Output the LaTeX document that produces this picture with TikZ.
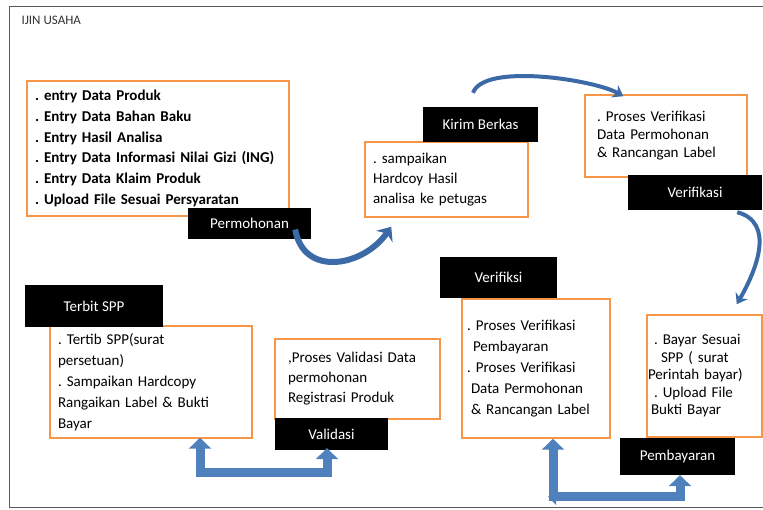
\documentclass[tikz,border=0pt]{standalone}
\usepackage{fontspec}
\setmainfont{Carlito}
\usetikzlibrary{calc,arrows.meta}
\definecolor{oranye}{HTML}{F79646}
\definecolor{biru}{HTML}{4F81BD}
\definecolor{birutua}{HTML}{3C6AA6}
\frenchspacing
\tikzset{
	isi/.style = {
		draw       = oranye,
		line width = 1.5pt,
		fill       = white,
		align      = left,
		inner ysep = 0pt,
		font       = \fontsize{15}{20}\selectfont
	},
	tab/.style = {
		fill      = black,
		text      = white,
		inner sep = 0pt,
		font      = \fontsize{15}{18}\selectfont
	},
	bingkai/.style  = {draw = black!65, line width = 1pt},
	panah/.style    = {draw = biru, line width = 9pt,
		{Triangle[width=22pt,length=11pt]}-{Triangle[width=22pt,length=11pt]}},
	lengkung/.style = {draw = birutua, line width = 4pt, -{Stealth[width=14pt,length=10pt]}}
}

\begin{document}
\begin{tikzpicture}[x = 1pt, y = 1pt]
	\useasboundingbox (0,0) rectangle (763,510);
	% frame and title
	\draw[bingkai] (763,503) -- (9,503) -- (9,2) -- (763,2);
	\node(judul) [anchor = west, text = black!80, font = \fontsize{13}{15}\selectfont] at (18,490) {IJIN USAHA};
	
	% boxes
	\node(produk) [isi, inner xsep = 8pt, text width = 246pt, minimum height = 135pt, font = \fontsize{15}{20.8}\selectfont\bfseries] at (158,361.5)
	{. entry Data Produk\\. Entry Data Bahan Baku\\. Entry Hasil Analisa\\. Entry Data Informasi Nilai Gizi (ING)\\. Entry Data Klaim Produk\\. Upload File Sesuai Persyaratan};
	\node(hardcopy) [isi, inner xsep = 8pt, text width = 147pt, minimum height = 75pt] at (446.5,330.5)
	{. sampaikan\\ Hardcoy Hasil\\ analisa ke petugas};
	\node(cekdata) [isi, inner xsep = 12pt, text width = 138pt, minimum height = 82pt, font = \fontsize{15}{18}\selectfont] at (666,374)
	{. Proses Verifikasi\\ Data Permohonan\\ \& Rancangan Label};
	\node(cekbayar) [isi, inner xsep = 5pt, text width = 138pt, minimum height = 139pt, font = \fontsize{15}{21}\selectfont] at (536,141.5)
	{. Proses Verifikasi\\\hspace*{6pt}Pembayaran\\. Proses Verifikasi\\\hspace*{4pt}Data Permohonan\\\hspace*{4pt}\& Rancangan Label};
	\node(bayar) [isi, inner xsep = 1pt, text width = 113pt, minimum height = 122pt, font = \fontsize{15}{17.5}\selectfont] at (704.5,134)
	{\hspace*{6pt}. Bayar Sesuai\\\hspace*{13pt}SPP ( surat\\Perintah bayar)\\\hspace*{6pt}. Upload File\\\hspace*{3pt}Bukti Bayar};
	\node(spp) [isi, inner xsep = 8pt, text width = 186pt, minimum height = 112pt, font = \fontsize{15}{21}\selectfont] at (151,128)
	{. Tertib SPP(surat\\persetuan)\\. Sampaikan Hardcopy\\Rangaikan Label \& Bukti\\Bayar};
	\node(validdata) [isi, inner xsep = 13pt, text width = 139pt, minimum height = 80pt] at (357.5,131)
	{,Proses Validasi Data\\permohonan\\Registrasi Produk};
	
	% black labels
	\foreach \nama/\x/\y/\lebar/\tinggi/\teks in {
		permohonan/249.5/286.5/123/31/Permohonan,
		kirim/480.5/385.5/115/35/Kirim Berkas,
		verifikasi/695/317.5/134/35/Verifikasi,
		verifiksi/498.5/232.5/117/41/Verifiksi,
		terbit/94/204/138/42/Terbit SPP,
		validasi/331.5/76/113/32/Validasi,
		pembayaran/677.5/53.5/115/37/Pembayaran}
		\node(\nama) [tab, minimum width = \lebar, minimum height = \tinggi] at (\x,\y) {\teks};
	
	% arrows
	\draw[lengkung, line width = 6pt, -{Stealth[width=20pt,length=12pt]}] ([xshift=-16pt,yshift=-6pt]permohonan.east)
		to[out=-80, in=-125, looseness=1.3] ([xshift=27pt,yshift=-9pt]hardcopy.south west);
	\draw[lengkung] ([xshift=-7.5pt,yshift=14pt]kirim.north)
		to[out=70, in=150, looseness=0.55] ([xshift=39pt,yshift=-2pt]cekdata.north west);
	\draw[lengkung] ([xshift=-25pt,yshift=-2pt]verifikasi.south east)
		to[out=-15, in=60, looseness=1.1] ([xshift=-26pt,yshift=10pt]bayar.north east);
	\draw[panah] ([xshift=49pt,yshift=1pt]spp.south) -- ++(0,-35) -| ([xshift=-4.5pt,yshift=2pt]validasi.south);
	\coordinate (sudut) at ($(cekbayar.south)+(17,-58)$);
	\draw[panah] ([xshift=17pt]cekbayar.south) -- (sudut) -| ([xshift=2.5pt]pembayaran.south);
	\draw[panah, arrows = -{Triangle[width=16pt,length=8pt]}] ([xshift=4pt]sudut) -- ([xshift=-5pt]sudut);
\end{tikzpicture}
\end{document}
